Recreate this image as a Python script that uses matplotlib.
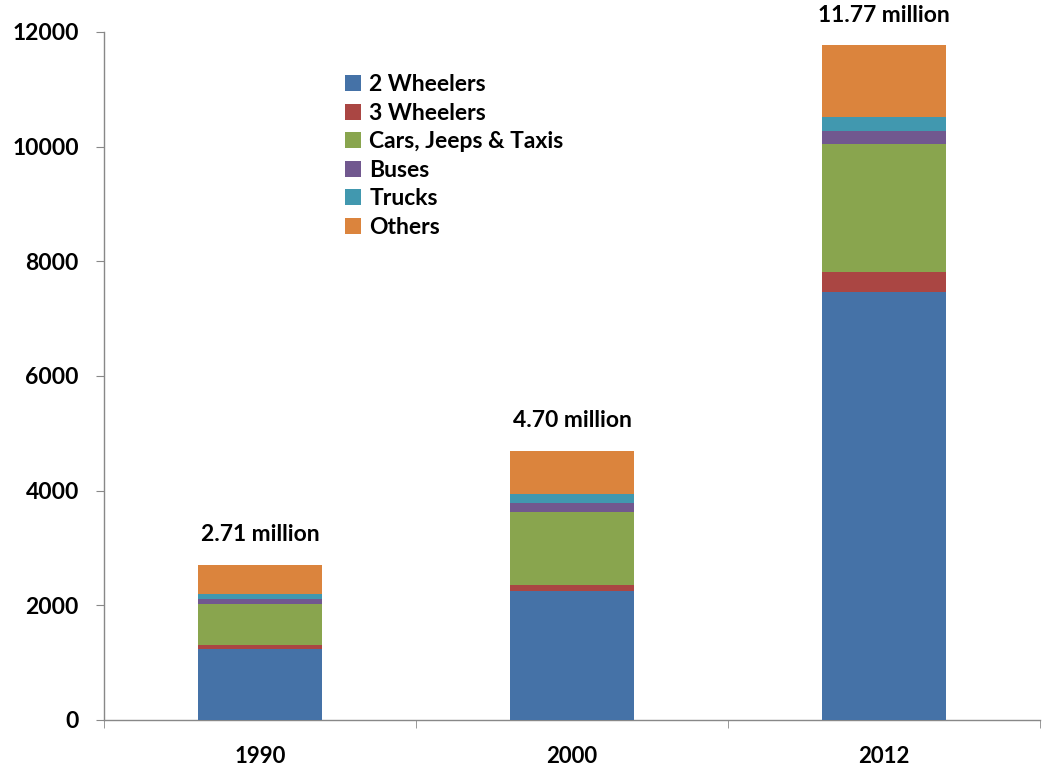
import matplotlib
matplotlib.use("Agg")
import matplotlib.pyplot as plt
import numpy as np

years = ["1990", "2000", "2012"]
categories = ["2 Wheelers", "3 Wheelers", "Cars, Jeeps & Taxis", "Buses", "Trucks", "Others"]
two_wheelers = [1240, 2250, 7470]
three_wheelers = [60, 100, 340]
cars_jeeps_taxis = [720, 1270, 2230]
buses = [90, 160, 230]
trucks = [90, 160, 240]
others = [510, 760, 1260]
totals_label = ["2.71 million", "4.70 million", "11.77 million"]

series = [two_wheelers, three_wheelers, cars_jeeps_taxis, buses, trucks, others]
colors = ["#4572A7", "#AA4643", "#89A54E", "#71588F", "#4198AF", "#DB843D"]

fig = plt.figure(figsize=(10.48, 7.76), dpi=100)
ax = fig.add_axes([0.0992, 0.0722, 0.8932, 0.8866])

x = np.arange(len(years))
bottom = np.zeros(len(years))
for vals, col, name in zip(series, colors, categories):
    ax.bar(x, vals, width=0.4, bottom=bottom, color=col, label=name,
           edgecolor="none", zorder=3)
    bottom += np.array(vals)

for xi, tot, lab in zip(x, bottom, totals_label):
    ax.annotate(lab, (xi, tot), xytext=(0, 14), textcoords="offset points",
                ha="center", va="bottom", fontsize=16.5, fontweight="bold",
                family="Lato", clip_on=False)

ax.set_xlim(-0.5, 2.5)
ax.set_ylim(0, 12000)
ax.set_yticks(np.arange(0, 12001, 2000))
ax.set_xticks(x)
ax.set_xticklabels(years)
ax.set_xticks([-0.5, 0.5, 1.5, 2.5], minor=True)

for s in ["top", "right"]:
    ax.spines[s].set_visible(False)
for s in ["left", "bottom"]:
    ax.spines[s].set_color("#888888")
    ax.spines[s].set_linewidth(1.0)

ax.tick_params(axis="y", length=6, color="#888888", pad=12, labelsize=16.5)
ax.tick_params(axis="x", which="major", length=0, pad=19, labelsize=16)
ax.tick_params(axis="x", which="minor", length=6, color="#888888")
for lbl in ax.get_yticklabels() + ax.get_xticklabels():
    lbl.set_fontweight("bold")
    lbl.set_family("Lato")

leg = ax.legend(loc="upper left", bbox_to_anchor=(0.248, 0.952), frameon=False,
                handlelength=0.7, handleheight=0.7, handletextpad=0.35,
                labelspacing=0.33, borderaxespad=0,
                prop={"family": "Lato", "weight": "bold", "size": 16.5})

fig.savefig("out.png", dpi=100)
